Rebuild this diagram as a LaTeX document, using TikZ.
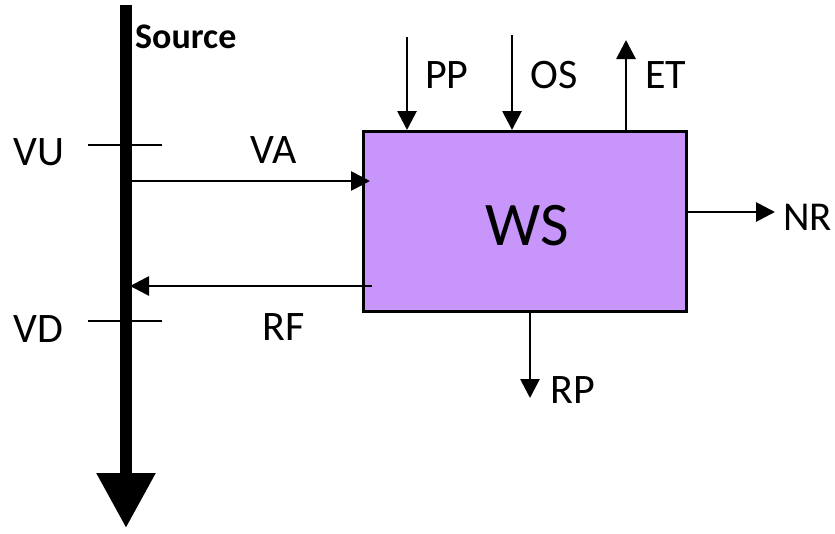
\documentclass[tikz,border=0pt]{standalone}
\usepackage{fontspec}
\setmainfont{Carlito}
\usetikzlibrary{
    positioning,           % Relative positioning
    arrows.meta            % Modern arrow tips
}
\definecolor{wsfill}{RGB}{200,150,250}

\begin{document}
\begin{tikzpicture}[x=1pt,y=-1pt,
    flow/.style={line width=2.8pt,-{Triangle[length=19pt,width=19pt]}},
    vtick/.style={line width=2.5pt},
    lbl/.style={font=\fontsize{42}{46}\selectfont,inner sep=0pt,anchor=base west}]
    \useasboundingbox (0,0) rectangle (835,533);
    % source stream
    \coordinate (srctop) at (126,5);
    \coordinate (srcend) at (126,528);
    \draw[line width=12pt,-{Triangle[length=55pt,width=56pt]}] (srctop) -- (srcend);
    \node[inner sep=0pt,anchor=base west,font=\fontsize{36}{40}\selectfont\bfseries] (source) at (135,48) {Source};
    \coordinate (vul) at (88,145);  \coordinate (vur) at (162,145);
    \coordinate (vdl) at (88,321);  \coordinate (vdr) at (162,321);
    \draw[vtick] (vul) -- (vur);
    \draw[vtick] (vdl) -- (vdr);
    % water system
    \node[draw,line width=2.5pt,fill=wsfill,anchor=north west,minimum width=323pt,minimum height=180pt] (ws) at (362,130) {};
    \node[inner sep=0pt,anchor=base,font=\fontsize{62}{66}\selectfont] (wslbl) at (527,245) {WS};
    % flows
    \coordinate (vaa) at (132,181);  \coordinate (vab) at (370,181);
    \coordinate (rfa) at (372,286);  \coordinate (rfb) at (130,286);
    \coordinate (ppa) at (407,37);   \coordinate (ppb) at (407,130);
    \coordinate (osa) at (512,35);   \coordinate (osb) at (512,130);
    \coordinate (eta) at (626,130);  \coordinate (etb) at (626,40);
    \coordinate (nra) at (685,212);  \coordinate (nrb) at (775,212);
    \coordinate (rpa) at (530,310);  \coordinate (rpb) at (530,398);
    \draw[flow] (vaa) -- (vab);
    \draw[flow] (rfa) -- (rfb);
    \draw[flow] (ppa) -- (ppb);
    \draw[flow] (osa) -- (osb);
    \draw[flow] (eta) -- (etb);
    \draw[flow] (nra) -- (nrb);
    \draw[flow] (rpa) -- (rpb);
    % labels
    \node[lbl] (vu) at (13,165) {VU};
    \node[lbl] (va) at (250,163) {VA};
    \node[lbl] (vd) at (13,342) {VD};
    \node[lbl] (rf) at (262,340) {RF};
    \node[lbl] (pp) at (425,88) {PP};
    \node[lbl] (os) at (530,88) {OS};
    \node[lbl] (et) at (645,88) {ET};
    \node[lbl,font=\fontsize{41}{45}\selectfont] (nr) at (783,230) {NR};
    \node[lbl] (rp) at (550,403) {RP};
\end{tikzpicture}
\end{document}
